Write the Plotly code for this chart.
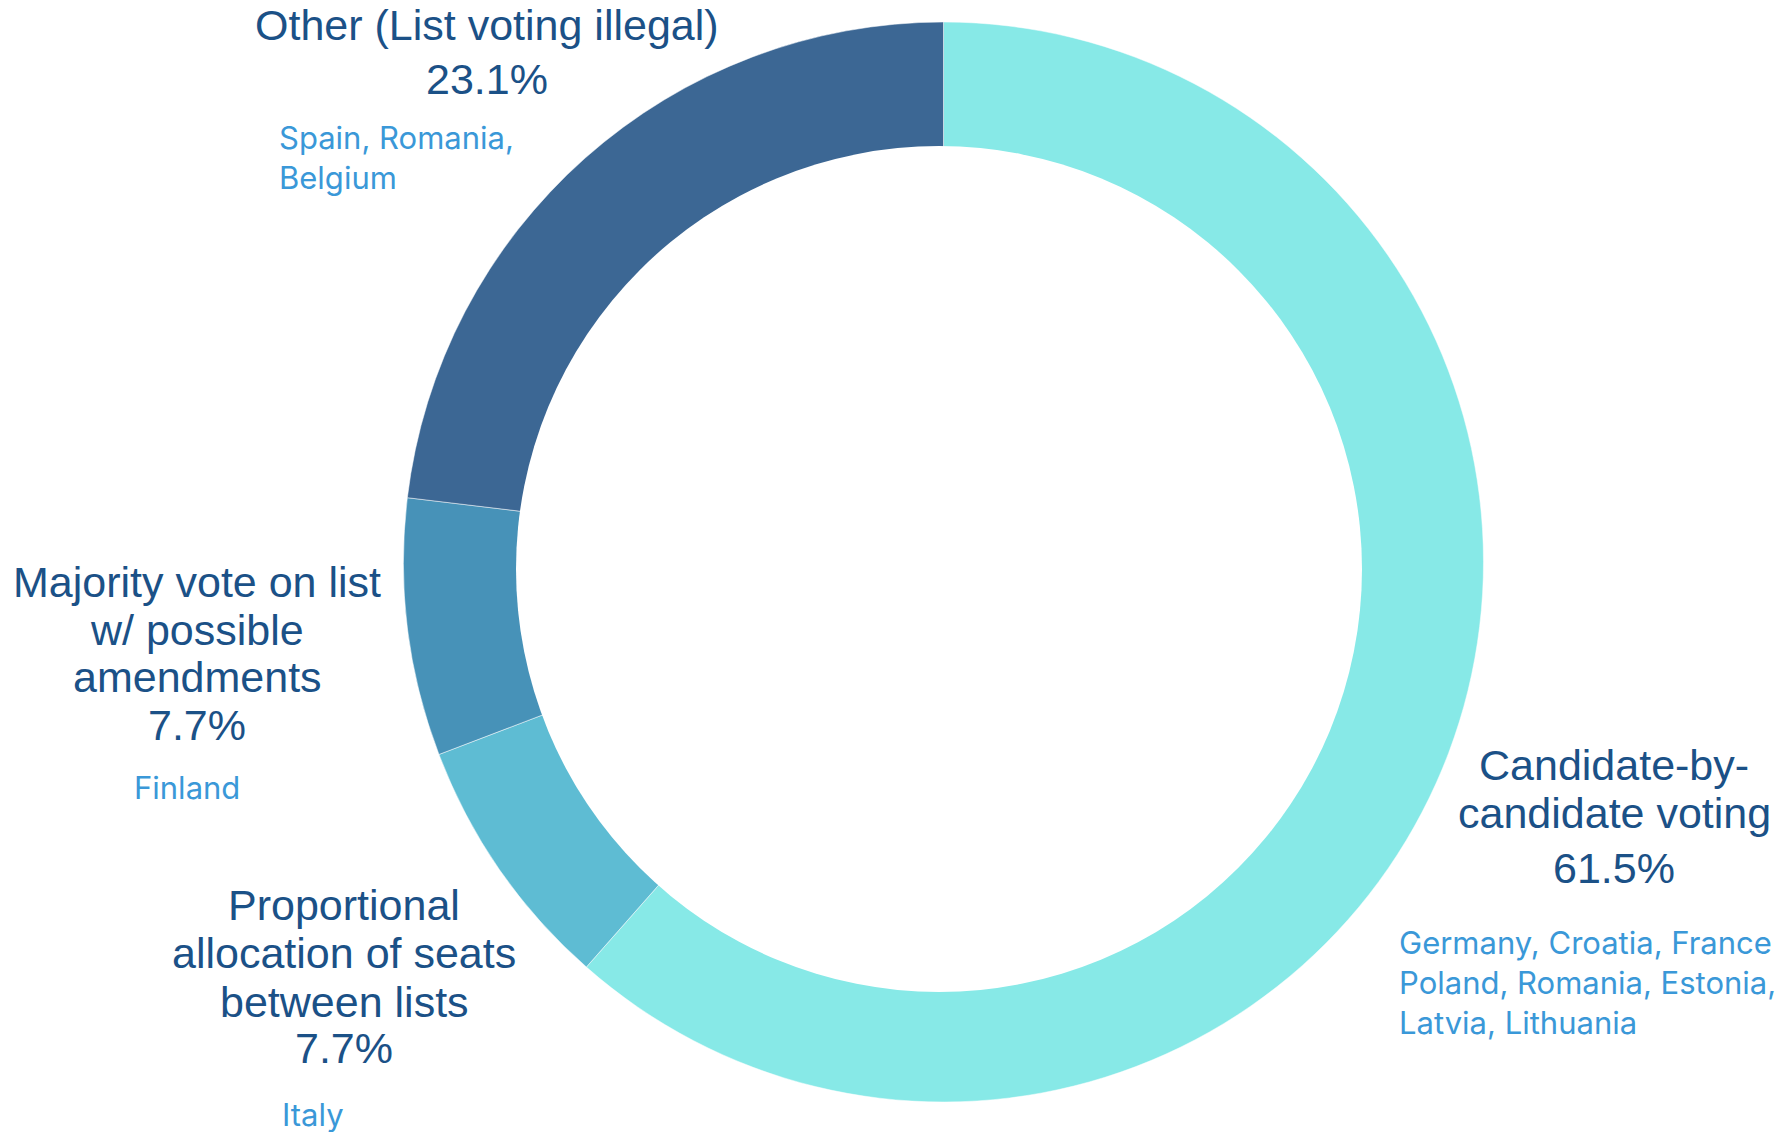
import plotly.graph_objects as go

# Voting methods and their shares (%)
methods = [
    "Candidate-by-candidate voting",
    "Proportional allocation of seats between lists",
    "Majority vote on list w/ possible amendments",
    "Other (List voting illegal)",
]
shares = [61.5, 7.7, 7.7, 23.1]

# Title lines shown for each method
title_lines = [
    ["Candidate-by-", "candidate voting"],
    ["Proportional", "allocation of seats", "between lists"],
    ["Majority vote on list", "w/ possible", "amendments"],
    ["Other (List voting illegal)"],
]
# Countries using each method
country_lines = [
    ["Germany, Croatia, France", "Poland, Romania, Estonia,", "Latvia, Lithuania"],
    ["Italy"],
    ["Finland"],
    ["Spain, Romania,", "Belgium"],
]

slice_colors = ["#87E9E7", "#5EBCD3", "#4792B8", "#3C6794"]
TITLE_COLOR = "#1B5187"
COUNTRY_COLOR = "#3A98D8"

W, H = 1786, 1132
# outer ring centre/radius and the (slightly offset) inner hole, in pixels
CX, CY, R = 943.5, 562, 540
HX, HY, HR = 939, 569, 423

# Label layout in pixels: centre x of title block, baselines of title lines,
# baseline of percentage line, left x of country list, first country baseline
label_layout = [
    dict(cx=1614, title_base=[780, 828], pct_base=883, country_x=1398, country_base=953),
    dict(cx=344, title_base=[920, 968, 1017], pct_base=1063, country_x=281, country_base=1125),
    dict(cx=197, title_base=[597, 645, 692], pct_base=740, country_x=133, country_base=798),
    dict(cx=487, title_base=[40], pct_base=94, country_x=278, country_base=148),
]
TITLE_SIZE = 43
COUNTRY_SIZE = 31
COUNTRY_STEP = 40

fig = go.Figure(
    go.Pie(
        labels=methods,
        values=shares,
        sort=False,
        direction="clockwise",
        rotation=0,
        hole=0.6,
        marker=dict(colors=slice_colors, line=dict(color="white", width=0.5)),
        textinfo="none",
        hoverinfo="label+percent",
        showlegend=False,
        domain=dict(x=[(CX - R) / W, (CX + R) / W], y=[(H - CY - R) / H, (H - CY + R) / H]),
    )
)

# white disc forming the donut hole
fig.add_shape(
    type="circle", xref="paper", yref="paper",
    x0=(HX - HR) / W, x1=(HX + HR) / W,
    y0=(H - HY - HR) / H, y1=(H - HY + HR) / H,
    fillcolor="white", line=dict(width=0), layer="above",
)


def px_x(x):
    return x / W


def px_y_center(baseline, size):
    # convert a text baseline (pixels from top) to the paper y of the line's middle
    return 1 - (baseline - 0.35 * size) / H


annotations = []
for lines, countries, share, lay in zip(title_lines, country_lines, shares, label_layout):
    for text, base in zip(lines, lay["title_base"]):
        annotations.append(dict(
            text=text, x=px_x(lay["cx"]), y=px_y_center(base, TITLE_SIZE),
            xanchor="center", yanchor="middle",
            font=dict(family="Liberation Sans, Arial", size=TITLE_SIZE, color=TITLE_COLOR),
        ))
    annotations.append(dict(
        text=f"{share:.1f}%", x=px_x(lay["cx"]), y=px_y_center(lay["pct_base"], TITLE_SIZE),
        xanchor="center", yanchor="middle",
        font=dict(family="Liberation Sans, Arial", size=TITLE_SIZE, color=TITLE_COLOR),
    ))
    for i, text in enumerate(countries):
        annotations.append(dict(
            text=text, x=px_x(lay["country_x"]),
            y=px_y_center(lay["country_base"] + i * COUNTRY_STEP, COUNTRY_SIZE),
            xanchor="left", yanchor="middle",
            font=dict(family="Inter, Noto Sans", size=COUNTRY_SIZE, color=COUNTRY_COLOR),
        ))

for a in annotations:
    a.update(xref="paper", yref="paper", showarrow=False, borderpad=0)

fig.update_layout(
    width=W, height=H,
    margin=dict(l=0, r=0, t=0, b=0),
    paper_bgcolor="white",
    plot_bgcolor="white",
    annotations=annotations,
)

fig.write_html("out.html", config={"displayModeBar": False})
